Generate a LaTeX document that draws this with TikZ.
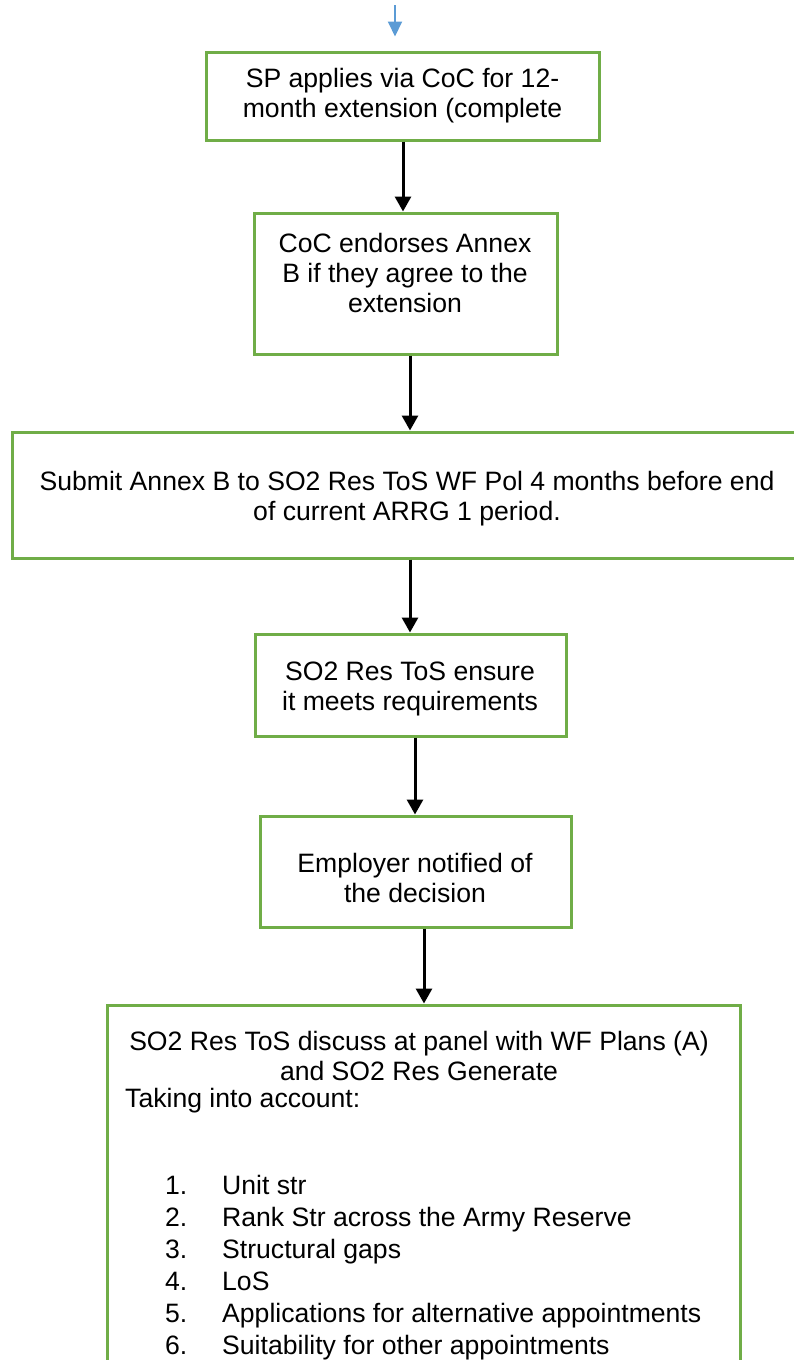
\documentclass[tikz,border=0pt]{standalone}
\usepackage{fontspec}
\setmainfont{Liberation Sans}
\usetikzlibrary{arrows.meta}
\definecolor{boxgreen}{HTML}{70AD47}
\definecolor{flowblue}{HTML}{5B9BD5}
\tikzset{
  stepbox/.style={draw=boxgreen,line width=3pt,inner sep=0pt},
  steptext/.style={align=center,inner sep=0pt,font=\fontsize{26.6}{30}\selectfont},
  listtext/.style={anchor=base west,inner sep=0pt,font=\fontsize{26.6}{30}\selectfont},
  flow/.style={-{Triangle[width=16pt,length=15pt]},line width=3pt},
}
\begin{document}
\begin{tikzpicture}[x=1pt,y=-1pt]
      \useasboundingbox (0,0) rectangle (794,1360);
      % boxes
      \draw
        (402.5, 96) node[stepbox,minimum width=393pt,minimum height=88pt] (b1){}
        (405.5, 283.5) node[stepbox,minimum width=303pt,minimum height=141pt] (b2){}
        (406, 495) node[stepbox,minimum width=788pt,minimum height=126pt] (b3){}
        (410.5, 685) node[stepbox,minimum width=311pt,minimum height=102pt] (b4){}
        (415.5, 871.5) node[stepbox,minimum width=311pt,minimum height=111pt] (b5){}
        (423.5, 1205) node[stepbox,minimum width=633pt,minimum height=400pt] (b6){};
      % texts
      \draw
        (402.5, 96) node[steptext] (t1){SP applies via CoC for 12-\\month extension (complete}
        (405, 273) node[steptext] (t2){CoC endorses Annex\\B if they agree to the\\extension}
        (407, 499) node[steptext] (t3){Submit Annex B to SO2 Res ToS WF Pol 4 months before end\\of current ARRG 1 period.}
        (410, 689) node[steptext] (t4){SO2 Res ToS ensure\\it meets requirements}
        (415, 878) node[steptext] (t5){Employer notified of\\the decision}
        (419, 1056) node[steptext] (t6){SO2 Res ToS discuss at panel with WF Plans (A)\\and SO2 Res Generate}
        (125, 1107) node[listtext] (t7){Taking into account:};
      \foreach \i/\txt in {1/Unit str,2/Rank Str across the Army Reserve,3/Structural gaps,
          4/LoS,5/Applications for alternative appointments,6/Suitability for other appointments}
        \draw (165, 1162+32*\i) node[listtext] (n\i){\i.}
              (222, 1162+32*\i) node[listtext] (i\i){\txt};
      % connectors
      \coordinate (start) at (395, 5);
      \draw[-{Triangle[width=14pt,length=15pt]},line width=2pt,flowblue]
        (start) -- ([xshift=-7.5pt,yshift=14pt]b1.north);
      \begin{scope}[flow]
        \draw ([xshift=0.5pt]b1.south) to ([xshift=-2.5pt]b2.north);
        \draw ([xshift=4.5pt]b2.south) to ([xshift=4pt]b3.north);
        \draw ([xshift=4pt]b3.south) to ([xshift=-0.5pt]b4.north);
        \draw ([xshift=4.5pt]b4.south) to ([xshift=-0.5pt]b5.north);
        \draw ([xshift=8.5pt]b5.south) to ([xshift=0.5pt]b6.north);
      \end{scope}
    \end{tikzpicture}
\end{document}
